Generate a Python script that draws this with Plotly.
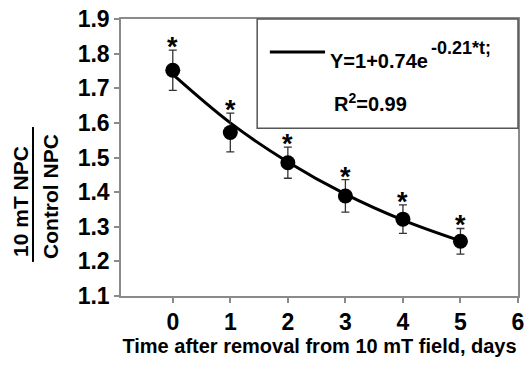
import plotly.graph_objects as go

days = [0, 1, 2, 3, 4, 5]
ratio = [1.752, 1.572, 1.485, 1.389, 1.322, 1.258]
err = [0.058, 0.056, 0.045, 0.047, 0.041, 0.037]
fit_t = [0, 1, 2, 3, 4, 5]
fit_y = [1.740, 1.600, 1.487, 1.394, 1.319, 1.259]
x_ticks = [0, 1, 2, 3, 4, 5, 6]
y_ticks = [1.1, 1.2, 1.3, 1.4, 1.5, 1.6, 1.7, 1.8, 1.9]

FONT = "Liberation Sans"
AXC = "#8a8a8a"

fig = go.Figure()
fig.add_trace(go.Scatter(x=fit_t, y=fit_y, mode="lines", line=dict(color="black", width=3, shape="spline"),
                         showlegend=False, hoverinfo="skip"))
fig.add_trace(go.Scatter(x=days, y=ratio, mode="markers",
                         marker=dict(color="black", size=15),
                         error_y=dict(type="data", array=err, color="#333333", thickness=1.3, width=4),
                         showlegend=False))

for d, r, e in zip(days, ratio, err):
    fig.add_annotation(x=d, y=r + e, text="<b>*</b>", showarrow=False, yanchor="middle", yshift=3,
                       font=dict(family=FONT, size=27, color="black"))

fig.update_layout(
    width=527, height=366,
    margin=dict(l=121, r=9, t=19, b=70, autoexpand=False),
    plot_bgcolor="white", paper_bgcolor="white",
    font=dict(family=FONT, color="black"),
    xaxis=dict(range=[-0.9, 6], tickvals=x_ticks, ticktext=[f"<b>{v}</b>" for v in x_ticks],
               showgrid=False, zeroline=False, automargin=False, ticklabeloverflow="allow",
               showline=True, linecolor=AXC, linewidth=1.5, mirror=True,
               ticks="outside", ticklen=5, tickcolor=AXC, tickwidth=1.5,
               tickfont=dict(family=FONT, size=23, color="black"),
               title=dict(text="<b>Time after removal from 10 mT field, days</b>",
                          font=dict(family=FONT, size=20, color="black"), standoff=5)),
    yaxis=dict(range=[1.1, 1.9], tickvals=y_ticks, ticktext=[f"<b>{v:.1f}</b>" for v in y_ticks],
               showgrid=False, zeroline=False, automargin=False, ticklabeloverflow="allow",
               showline=True, linecolor=AXC, linewidth=1.5, mirror=True,
               ticks="outside", ticklen=5, tickcolor=AXC, tickwidth=1.5,
               tickfont=dict(family=FONT, size=23, color="black")),
)

# legend-like box
fig.add_shape(type="rect", xref="paper", yref="paper", x0=0.343, x1=1.0, y0=0.606, y1=1.0,
              line=dict(color="#555555", width=1.5), fillcolor="white", layer="above")
fig.add_shape(type="line", xref="paper", yref="paper", x0=0.375, x1=0.514, y0=0.881, y1=0.881,
              line=dict(color="black", width=3))
fig.add_annotation(xref="paper", yref="paper", x=0.522, y=0.848, xanchor="left", yanchor="middle",
                   text="<b>Y=1+0.74e</b>", showarrow=False,
                   font=dict(family=FONT, size=20, color="black"))
fig.add_annotation(xref="paper", yref="paper", x=0.776, y=0.897, xanchor="left", yanchor="middle",
                   text="<b>-0.21*t;</b>", showarrow=False,
                   font=dict(family=FONT, size=18, color="black"))
fig.add_annotation(xref="paper", yref="paper", x=0.532, y=0.70, xanchor="left", yanchor="middle",
                   text="<b>R<sup>2</sup>=0.99</b>", showarrow=False,
                   font=dict(family=FONT, size=20, color="black"))

# y-axis fraction title
fig.add_annotation(xref="paper", yref="paper", x=-0.252, y=0.343, xanchor="center", yanchor="middle",
                   text="<b>10 mT NPC</b>", textangle=-90, showarrow=False,
                   font=dict(family=FONT, size=21, color="black"))
fig.add_annotation(xref="paper", yref="paper", x=-0.179, y=0.361, xanchor="center", yanchor="middle",
                   text="<b>Control NPC</b>", textangle=-90, showarrow=False,
                   font=dict(family=FONT, size=21, color="black"))
fig.add_shape(type="line", xref="paper", yref="paper", x0=-0.2217, x1=-0.2217, y0=0.123, y1=0.610,
              line=dict(color="black", width=2))

fig.write_html("out.html", config={"displayModeBar": False},
               post_script="document.body.style.margin='0';document.body.style.overflow='hidden';")
